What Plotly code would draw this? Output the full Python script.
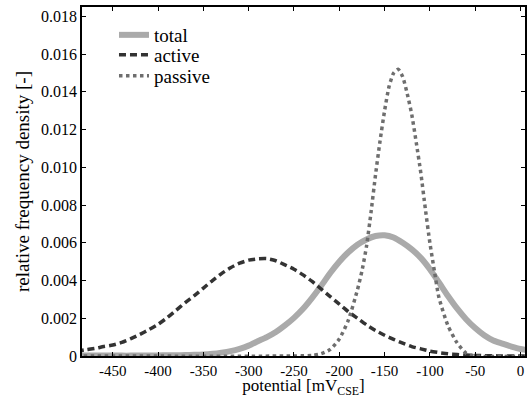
import plotly.graph_objects as go

# potential grid [mV_CSE]
x_grid = [-490, -480, -470, -460, -450, -440, -430, -420, -410, -400,
          -390, -380, -370, -360, -350, -340, -330, -320, -310, -300,
          -290, -280, -270, -260, -250, -240, -230, -220, -210, -200,
          -190, -180, -170, -160, -150, -140, -130, -120, -110, -100,
          -90, -80, -70, -60, -50, -40, -30, -20, -10, 0, 10]

total = [0.00002, 0.00002, 0.00002, 0.00002, 0.00002, 0.00002, 0.00002, 0.00003, 0.00003, 0.00003,
         0.00004, 0.00004, 0.00005, 0.00006, 0.00008, 0.00012, 0.00018, 0.00026, 0.00038, 0.00055,
         0.00078, 0.00100, 0.00127, 0.00162, 0.00202, 0.00250, 0.00308, 0.00372, 0.00440, 0.00500,
         0.00550, 0.00590, 0.00618, 0.00636, 0.00640, 0.00628, 0.00600, 0.00565, 0.00520, 0.00460,
         0.00390, 0.00318, 0.00252, 0.00195, 0.00148, 0.00110, 0.00082, 0.00066, 0.00050, 0.00037, 0.00030]

active = [0.00025, 0.00033, 0.00040, 0.00050, 0.00058, 0.00072, 0.00092, 0.00115, 0.00140, 0.00168,
          0.00203, 0.00243, 0.00283, 0.00320, 0.00360, 0.00400, 0.00437, 0.00468, 0.00492, 0.00508,
          0.00515, 0.00516, 0.00505, 0.00483, 0.00460, 0.00430, 0.00395, 0.00355, 0.00315, 0.00275,
          0.00235, 0.00200, 0.00165, 0.00135, 0.00110, 0.00088, 0.00068, 0.00050, 0.00038, 0.00026,
          0.00018, 0.00012, 0.00008, 0.00005, 0.00003, 0.00002, 0.00001, 0.0, 0.0, 0.0, 0.0]

x_passive = [-490, -250, -230, -220, -210, -200, -190, -180, -175, -170,
             -165, -160, -155, -150, -145, -140, -135, -130, -125, -120,
             -115, -110, -105, -100, -95, -90, -80, -70, -60, -50, 10]
passive = [0.0, 0.0, 0.00003, 0.00012, 0.00035, 0.0009, 0.0019, 0.0035, 0.0045, 0.0058,
           0.0076, 0.0096, 0.0114, 0.0130, 0.0143, 0.0150, 0.0152, 0.0148, 0.0139, 0.0128,
           0.0113, 0.0097, 0.0078, 0.0060, 0.0045, 0.0031, 0.0016, 0.0007, 0.00015, 0.0, 0.0]

x_ticks = [-450, -400, -350, -300, -250, -200, -150, -100, -50, 0]
x_ticktext = ["-450", "-400", "-350", "-300", "-250", "-200", "-150", "-100", "-50", "0"]
y_ticks = [0, 0.002, 0.004, 0.006, 0.008, 0.010, 0.012, 0.014, 0.016, 0.018]
y_ticktext = ["0", "0.002", "0.004", "0.006", "0.008", "0.010", "0.012", "0.014", "0.016", "0.018"]

fig = go.Figure()
fig.add_trace(go.Scatter(x=x_grid, y=total, name="total", mode="lines", legend="legend",
                         line=dict(color="#aaaaaa", width=6, shape="spline", smoothing=0.6)))
fig.add_trace(go.Scatter(x=x_grid, y=active, name="active", mode="lines", legend="legend2",
                         line=dict(color="#333333", width=3.5, dash="7px,4px", shape="spline", smoothing=0.6)))
fig.add_trace(go.Scatter(x=x_passive, y=passive, name="passive", mode="lines", legend="legend3",
                         line=dict(color="#6e6e6e", width=3.5, dash="dot", shape="spline", smoothing=0.6)))

font_family = "Liberation Serif"
x_tick_font = dict(size=15, family="Liberation Serif", color="black")
y_tick_font = dict(size=16, family="Liberation Serif", color="black")
leg_common = dict(x=0.0722, xanchor="left", yanchor="middle",
                  bgcolor="rgba(0,0,0,0)", font=dict(size=19, family=font_family, color="black"))
fig.update_layout(
    width=531, height=398,
    margin=dict(l=82, r=6, t=7, b=42),
    paper_bgcolor="white", plot_bgcolor="white",
    font=dict(family=font_family, color="black", size=16),
    showlegend=True,
    legend=dict(y=0.9198, **leg_common),
    legend2=dict(y=0.8625, **leg_common),
    legend3=dict(y=0.8023, **leg_common),
)
fig.update_xaxes(range=[-484, 5], tickvals=x_ticks, ticktext=x_ticktext, automargin=False,
                 showline=True, linecolor="black", linewidth=1.5, mirror="ticks",
                 ticks="inside", ticklen=4, tickcolor="black", showgrid=False, zeroline=False,
                 tickfont=x_tick_font,
                 title=dict(text="potential [mV<sub>CSE</sub>]",
                            font=dict(size=17, family=font_family, color="black"), standoff=2))
fig.update_yaxes(range=[0, 0.0185], tickvals=y_ticks, ticktext=y_ticktext, automargin=False,
                 showline=True, linecolor="black", linewidth=1.5, mirror="ticks",
                 ticks="inside", ticklen=4, tickcolor="black", showgrid=False, zeroline=False,
                 tickfont=y_tick_font,
                 title=dict(text="relative frequency density [-]",
                            font=dict(size=19, family=font_family, color="black"), standoff=6))

fig.write_html("out.html", config={"displayModeBar": False},
               post_script="document.body.style.margin='0';")
